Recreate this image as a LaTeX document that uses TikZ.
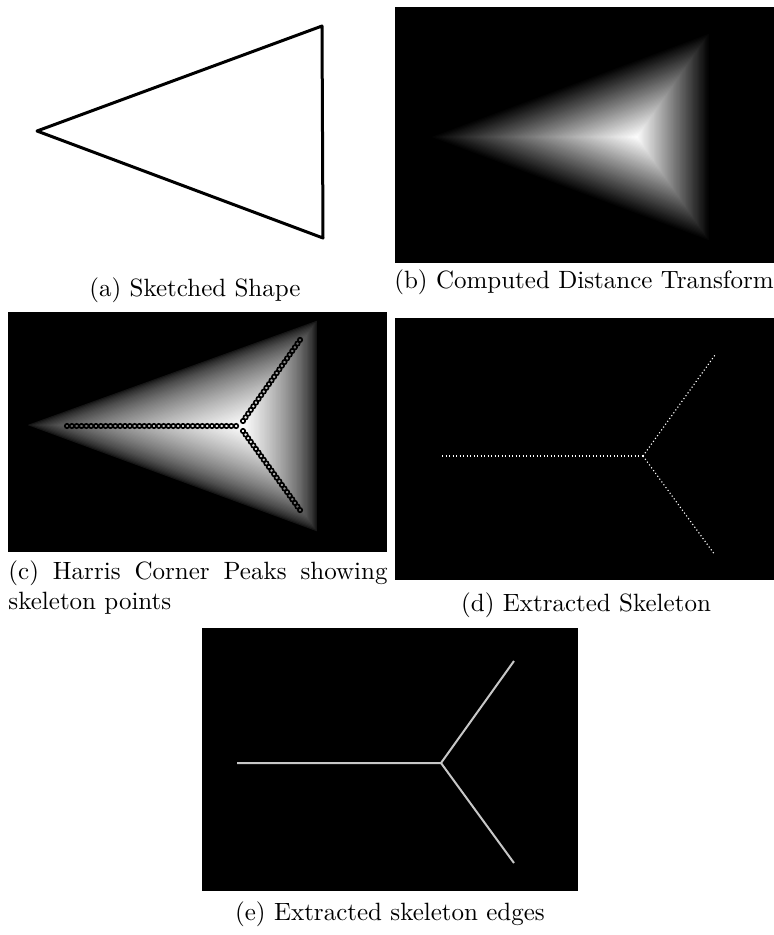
\documentclass[tikz,border=0pt]{standalone}
\usepackage{tikz}
\usetikzlibrary{calc}

\begin{document}
\begin{tikzpicture}[x=0.4pt,y=-0.4pt,
  capt/.style={inner sep=0pt,anchor=base},
  panel/.style={fill=black},
  peak/.style={draw=black,line width=0.65pt},
  skeldot/.style={draw=white,line width=0.45pt,dash pattern=on 0.45pt off 0.95pt},
  skeledge/.style={draw=white!78!black,line width=0.8pt}]
  \useasboundingbox (0,0) rectangle (774,935);

  \coordinate (a1) at (37,131); \coordinate (a2) at (322,26); \coordinate (a3) at (323,238);
  \draw[line width=1.2pt,line join=round] (a1) -- (a2) -- (a3) -- cycle;
  \node[capt] (capa) at (195,296) {(a) Sketched Shape};

  \fill[panel] (395,7) rectangle (774,263);
  \coordinate (b1) at (428,137); \coordinate (b2) at (710,32); \coordinate (b3) at (710,242);
  \coordinate (bi) at (637,137);
  \foreach \k in {1,...,60}{
    \pgfmathsetmacro\s{1-\k/61}
    \pgfmathsetmacro\g{100*\k/61}
    \fill[white!\g!black] ($(bi)!\s!(b1)$) -- ($(bi)!\s!(b2)$) -- ($(bi)!\s!(b3)$) -- cycle;
  }
  \node[capt] (capb) at (584,288) {(b) Computed Distance Transform};

  \fill[panel] (8,312) rectangle (387,552);
  \coordinate (c1) at (24,425); \coordinate (c2) at (318,319); \coordinate (c3) at (318,533);
  \coordinate (ci) at (243,426);
  \foreach \k in {1,...,60}{
    \pgfmathsetmacro\s{1-\k/61}
    \pgfmathsetmacro\g{100*(\k/61)^0.6}
    \fill[white!\g!black] ($(ci)!\s!(c1)$) -- ($(ci)!\s!(c2)$) -- ($(ci)!\s!(c3)$) -- cycle;
  }
  \coordinate (ch0) at (67,426); \coordinate (ch1) at (236,426);
  \coordinate (cu0) at (243,421); \coordinate (cu1) at (300,340);
  \coordinate (cl0) at (243,431); \coordinate (cl1) at (300,510);
  \foreach \t in {0,0.0286,...,1.01} \draw[peak] ($(ch0)!\t!(ch1)$) circle (2.2);
  \foreach \t in {0,0.0455,...,1.01} {
    \draw[peak] ($(cu0)!\t!(cu1)$) circle (2.2);
    \draw[peak] ($(cl0)!\t!(cl1)$) circle (2.2);
  }
  \node[anchor=north west,inner sep=0pt,text width=151.6pt,align=justify] (capc) at (8,560)
    {(c) Harris Corner Peaks showing skeleton points};

  \fill[panel] (395,318) rectangle (774,580);
  \coordinate (d0) at (643,456); \coordinate (d1) at (442,456);
  \coordinate (d2) at (715,355); \coordinate (d3) at (715,555);
  \draw[skeldot] (d1) -- (d0);
  \draw[skeldot] (d0) -- (d2);
  \draw[skeldot] (d0) -- (d3);
  \node[capt] (capd) at (586,611) {(d) Extracted Skeleton};

  \fill[panel] (202,628) rectangle (578,891);
  \coordinate (e0) at (441,763); \coordinate (e1) at (237,763);
  \coordinate (e2) at (514,661); \coordinate (e3) at (514,863);
  \draw[skeledge] (e1) -- (e0) -- (e2);
  \draw[skeledge] (e0) -- (e3);
  \node[capt] (cape) at (390,920) {(e) Extracted skeleton edges};
\end{tikzpicture}
\end{document}
